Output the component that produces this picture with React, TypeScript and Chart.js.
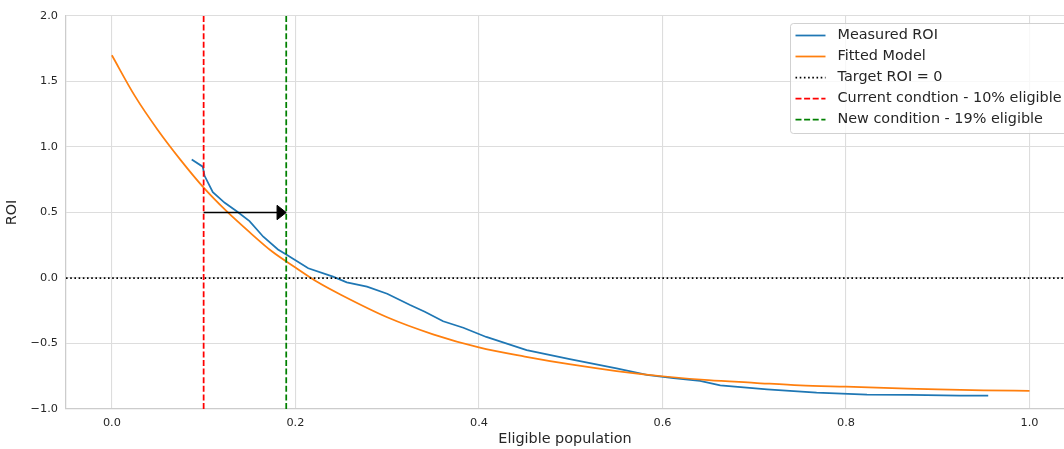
import React, { useEffect, useRef } from "react";
import { Chart, registerables } from "chart.js";

Chart.register(...registerables);

// ---- data ----
const measuredX = [0.087, 0.099, 0.101, 0.110, 0.123, 0.136, 0.150, 0.165, 0.181, 0.190, 0.214, 0.241, 0.256, 0.278, 0.300, 0.325, 0.341, 0.361, 0.383, 0.408, 0.452, 0.499, 0.550, 0.583, 0.612, 0.641, 0.663, 0.714, 0.768, 0.823, 0.870, 0.924, 0.955];
const measuredY = [0.905, 0.85, 0.78, 0.655, 0.574, 0.51, 0.434, 0.315, 0.218, 0.179, 0.074, 0.010, -0.033, -0.066, -0.12, -0.206, -0.257, -0.33, -0.38, -0.45, -0.55, -0.62, -0.69, -0.74, -0.765, -0.785, -0.82, -0.85, -0.875, -0.89, -0.893, -0.897, -0.897];

const fittedX = [0, 0.025, 0.05, 0.075, 0.1, 0.125, 0.15, 0.175, 0.2, 0.225, 0.25, 0.3, 0.35, 0.4, 0.45, 0.5, 0.55, 0.6, 0.65, 0.7, 0.75, 0.8, 0.85, 0.9, 0.95, 1.0];
const fittedY = [1.70, 1.39, 1.13, 0.90, 0.69, 0.51, 0.35, 0.20, 0.08, -0.035, -0.13, -0.30, -0.43, -0.53, -0.60, -0.66, -0.71, -0.75, -0.78, -0.80, -0.82, -0.83, -0.84, -0.85, -0.857, -0.862];

const targetRoi = 0;
const currentCondition = 0.1;
const newCondition = 0.19;
const arrowStartX = 0.1;
const arrowTipX = 0.19;
const arrowY = 0.5;
const arrowHeadLength = 0.01;
const arrowHeadWidth = 0.11;

const xTicks = [0, 0.2, 0.4, 0.6, 0.8, 1.0];
const yTicks = [-1.0, -0.5, 0.0, 0.5, 1.0, 1.5, 2.0];
const xMin = -0.05;
const xMax = 1.0376;
const yMin = -1.0;
const yMax = 2.0;

const seriesLabels = [
  "Measured ROI",
  "Fitted Model",
  "Target ROI = 0",
  "Current condtion - 10% eligible",
  "New condition - 19% eligible",
];
const xTitle = "Eligible population";
const yTitle = "ROI";

// ---- styles ----
const FONT = "'DejaVu Sans', sans-serif";
const TEXT = "#262626";
const LW = 1.75;
const DOTTED = [1.6, 2.6];
const DASHED = [6, 2.6];

const fmt = (v: number) => (v < 0 ? "\u2212" : "") + Math.abs(v).toFixed(1);

const arrowAndLegend = {
  id: "arrowAndLegend",
  afterDatasetsDraw(chart: any) {
    const { ctx, scales } = chart;
    const xs = scales.x;
    const ys = scales.y;
    ctx.save();
    const x0 = xs.getPixelForValue(arrowStartX);
    const xt = xs.getPixelForValue(arrowTipX);
    const xh = xs.getPixelForValue(arrowTipX - arrowHeadLength);
    const yc = ys.getPixelForValue(arrowY);
    const hh = Math.abs(ys.getPixelForValue(arrowY + arrowHeadWidth / 2) - yc);
    ctx.strokeStyle = "#000";
    ctx.fillStyle = "#000";
    ctx.lineWidth = 1.6;
    ctx.beginPath();
    ctx.moveTo(x0, yc);
    ctx.lineTo(xh, yc);
    ctx.stroke();
    ctx.beginPath();
    ctx.moveTo(xh, yc - hh);
    ctx.lineTo(xt, yc);
    ctx.lineTo(xh, yc + hh);
    ctx.closePath();
    ctx.fill();
    ctx.lineWidth = 1;
    ctx.stroke();
    ctx.restore();
  },
  afterDraw(chart: any) {
    const { ctx, chartArea } = chart;
    const bx = chartArea.right - 273.5;
    const by = chartArea.top + 7.5;
    const bw = 300;
    const bh = 110;
    ctx.save();
    ctx.beginPath();
    const r = 3;
    ctx.moveTo(bx + r, by);
    ctx.lineTo(bx + bw - r, by);
    ctx.arcTo(bx + bw, by, bx + bw, by + r, r);
    ctx.lineTo(bx + bw, by + bh - r);
    ctx.arcTo(bx + bw, by + bh, bx + bw - r, by + bh, r);
    ctx.lineTo(bx + r, by + bh);
    ctx.arcTo(bx, by + bh, bx, by + bh - r, r);
    ctx.lineTo(bx, by + r);
    ctx.arcTo(bx, by, bx + r, by, r);
    ctx.closePath();
    ctx.fillStyle = "rgba(255,255,255,0.8)";
    ctx.fill();
    ctx.strokeStyle = "rgba(204,204,204,0.9)";
    ctx.lineWidth = 1;
    ctx.stroke();

    chart.data.datasets.forEach((ds: any, i: number) => {
      const cy = by + 12 + i * 21;
      ctx.beginPath();
      ctx.setLineDash(ds.borderDash || []);
      ctx.strokeStyle = ds.borderColor;
      ctx.lineWidth = ds.borderWidth;
      ctx.moveTo(bx + 5, cy);
      ctx.lineTo(bx + 35, cy);
      ctx.stroke();
      ctx.setLineDash([]);
      ctx.fillStyle = TEXT;
      ctx.font = `14.4px ${FONT}`;
      ctx.textBaseline = "middle";
      ctx.textAlign = "left";
      ctx.fillText(ds.label, bx + 47, cy);
    });
    ctx.restore();
  },
};

export default function App() {
  const ref = useRef<HTMLCanvasElement | null>(null);

  useEffect(() => {
    if (!ref.current) return;
    const pts = (xs: number[], ys: number[]) => xs.map((x, i) => ({ x, y: ys[i] }));
    const chart = new Chart(ref.current, {
      type: "scatter",
      data: {
        datasets: [
          {
            label: seriesLabels[0],
            data: pts(measuredX, measuredY),
            showLine: true,
            borderColor: "#1f77b4",
            backgroundColor: "#1f77b4",
            borderWidth: LW,
            pointRadius: 0,
            order: 5,
          },
          {
            label: seriesLabels[1],
            data: pts(fittedX, fittedY),
            showLine: true,
            borderColor: "#ff7f0e",
            backgroundColor: "#ff7f0e",
            borderWidth: LW,
            pointRadius: 0,
            cubicInterpolationMode: "monotone",
            order: 4,
          },
          {
            label: seriesLabels[2],
            data: [
              { x: xMin, y: targetRoi },
              { x: xMax, y: targetRoi },
            ],
            showLine: true,
            borderColor: "#000000",
            backgroundColor: "#000000",
            borderWidth: LW,
            borderDash: DOTTED,
            pointRadius: 0,
            order: 3,
          },
          {
            label: seriesLabels[3],
            data: [
              { x: currentCondition, y: yMin },
              { x: currentCondition, y: yMax },
            ],
            showLine: true,
            borderColor: "#ff0000",
            backgroundColor: "#ff0000",
            borderWidth: LW,
            borderDash: DASHED,
            pointRadius: 0,
            order: 2,
          },
          {
            label: seriesLabels[4],
            data: [
              { x: newCondition, y: yMin },
              { x: newCondition, y: yMax },
            ],
            showLine: true,
            borderColor: "#008000",
            backgroundColor: "#008000",
            borderWidth: LW,
            borderDash: DASHED,
            pointRadius: 0,
            order: 1,
          },
        ] as any,
      },
      options: {
        responsive: false,
        animation: false,
        devicePixelRatio: 1,
        layout: { padding: { top: 16, right: 0, bottom: 0, left: 0 } },
        plugins: { legend: { display: false }, tooltip: { enabled: false } },
        scales: {
          x: {
            type: "linear",
            min: xMin,
            max: xMax,
            afterBuildTicks: (s: any) => {
              s.ticks = xTicks.map((v) => ({ value: v }));
            },
            afterFit: (s: any) => {
              s.height = 40;
            },
            grid: { color: "#dddddd", lineWidth: 1.1, drawTicks: false },
            border: { display: true, color: "#cccccc", width: 1.25 },
            ticks: {
              padding: 7,
              color: TEXT,
              font: { family: FONT, size: 11.3 },
              maxRotation: 0,
              autoSkip: false,
              callback: (v: any) => fmt(Number(v)),
            },
            title: {
              display: true,
              text: xTitle,
              color: TEXT,
              font: { family: FONT, size: 14.4 },
              padding: { top: 0, bottom: 1 },
            },
          },
          y: {
            type: "linear",
            min: yMin,
            max: yMax,
            afterBuildTicks: (s: any) => {
              s.ticks = yTicks.map((v) => ({ value: v }));
            },
            afterFit: (s: any) => {
              s.width = 66;
            },
            grid: { color: "#dddddd", lineWidth: 1.1, drawTicks: false },
            border: { display: true, color: "#cccccc", width: 1.25 },
            ticks: {
              padding: 8,
              color: TEXT,
              font: { family: FONT, size: 11.3 },
              autoSkip: false,
              callback: (v: any) => fmt(Number(v)),
            },
            title: {
              display: true,
              text: yTitle,
              color: TEXT,
              font: { family: FONT, size: 14.4 },
              padding: { top: 3.5, bottom: 0 },
            },
          },
        },
      },
      plugins: [arrowAndLegend],
    });
    return () => chart.destroy();
  }, []);

  return (
    <div style={{ position: "fixed", left: 0, top: 0, width: 1064, height: 449, background: "#fff" }}>
      <canvas ref={ref} width={1064} height={449} style={{ display: "block", width: 1064, height: 449 }} />
    </div>
  );
}
